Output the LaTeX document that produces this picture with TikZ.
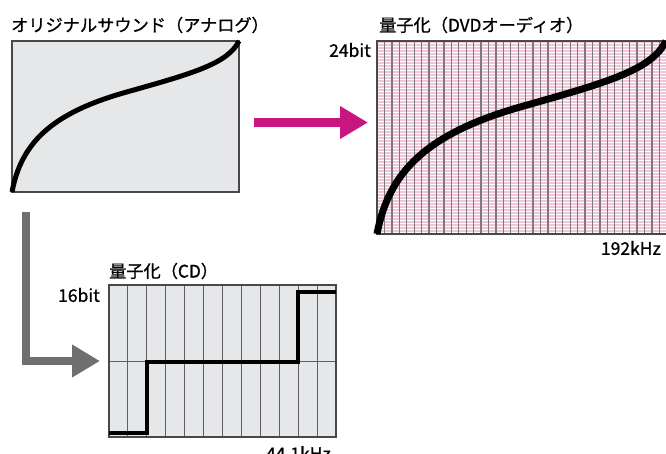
\documentclass[tikz,border=0pt]{standalone}
\usepackage{fontspec}
\setmainfont{Noto Sans CJK JP}[BoldFont={Noto Sans CJK JP}, BoldFeatures={FakeBold=0.9}]
\usetikzlibrary{positioning, arrows.meta}

\definecolor{panelgray}{RGB}{230,231,232}
\definecolor{framegray}{RGB}{72,72,74}
\definecolor{gridgray}{RGB}{95,95,97}
\definecolor{stripepink}{RGB}{238,198,215}
\definecolor{colmauve}{RGB}{128,120,124}
\definecolor{arrowmagenta}{RGB}{200,22,128}
\definecolor{arrowgray}{RGB}{110,111,113}

\begin{document}
\begin{tikzpicture}[x=1pt, y=-1pt,
    panel/.style={rectangle, anchor=north west, inner sep=0pt, outer sep=0pt},
    frame/.style={draw=framegray, line width=1.2pt},
    title/.style={anchor=west, inner sep=0pt, font=\fontsize{17.2}{19}\selectfont\bfseries},
    unit/.style={inner sep=0pt, font=\fontsize{17.5}{19}\selectfont\bfseries},
    wave/.style={line width=5pt, black},
    fatarrow/.style={line width=9pt, -{Triangle[length=28pt, width=31pt]}}
]
\useasboundingbox (0,0) rectangle (666,454);

% analog
\node[panel, frame, fill=panelgray, minimum width=227pt, minimum height=151pt] (analog) at (12,41) {};
\node[title] (analogtitle) at (11,25) {オリジナルサウンド（アナログ）};
\begin{scope}[shift={(analog.south west)}, x=227pt, y=151pt]
  \draw[wave] (0,0) .. controls (0.04,0.32) and (0.17,0.52) .. (0.5,0.66)
    .. controls (0.8,0.787) and (0.95,0.85) .. (1,1);
\end{scope}

% dvd audio
\node[panel, fill=white, minimum width=290pt, minimum height=193pt] (dvd) at (377,41) {};
\foreach \y in {42,45,...,233}
  \draw[stripepink, line width=1.4pt] (377,\y) -- (667,\y);
\foreach \i in {1,...,38}
  \draw[colmauve, line width=1.3pt] (377+7.43*\i,41) -- (377+7.43*\i,234);
\draw[frame] (dvd.south west) rectangle (dvd.north east);
\begin{scope}[shift={(dvd.south west)}, x=289pt, y=193pt]
  \draw[wave, line width=7pt] (0,0) .. controls (0.04,0.32) and (0.17,0.52) .. (0.5,0.66)
    .. controls (0.8,0.787) and (0.95,0.85) .. (1,1);
\end{scope}
\node[title] (dvdtitle) at (379,25) {量子化（DVDオーディオ）};
\node[unit, anchor=east] (dvdbits) at (371,50) {24bit};
\node[unit, anchor=east] (dvdrate) at (661,248) {192kHz};

% cd
\node[panel, fill=panelgray, minimum width=227pt, minimum height=152pt] (cd) at (109,285) {};
\foreach \i in {1,...,11}
  \draw[gridgray, line width=0.9pt] (109+18.92*\i,285) -- (109+18.92*\i,437);
\draw[gridgray, line width=0.9pt] (cd.west) -- (cd.east);
\draw[frame] (cd.south west) rectangle (cd.north east);
\draw[black, line width=4pt] (109,433) -- (146.8,433) -- (146.8,362) -- (298.2,362)
  -- (298.2,292) -- (336,292);
\node[title] (cdtitle) at (109,271) {量子化（CD）};
\node[unit, anchor=east] (cdbits) at (100,295) {16bit};
\node[unit, anchor=north east] (cdrate) at (331,446) {44.1kHz};

% arrows
\coordinate (magstart) at ([xshift=15pt, yshift=-6pt]analog.east);
\coordinate (magtip) at ([xshift=-9pt, yshift=15pt]dvd.west);
\draw[fatarrow, arrowmagenta] (magstart) -- (magtip);
\coordinate (graystart) at ([xshift=14pt, yshift=-20pt]analog.south west);
\coordinate (graytip) at ([xshift=-9pt]cd.west);
\draw[fatarrow, arrowgray, line width=8pt] (graystart) |- (graytip);

\end{tikzpicture}
\end{document}
